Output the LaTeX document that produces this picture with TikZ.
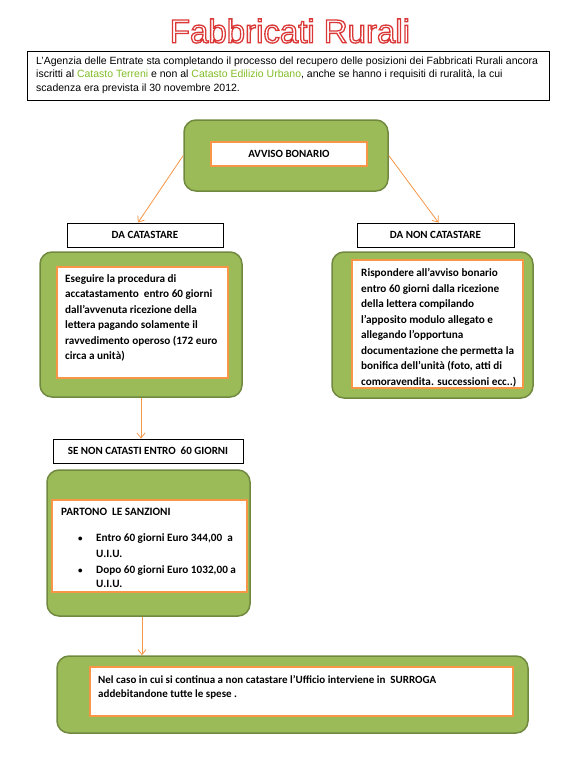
\documentclass[tikz,border=0pt]{standalone}
\usepackage{fontspec}
\setmainfont{Carlito}
\newfontfamily\arialf{Liberation Sans}
\usetikzlibrary{arrows.meta}
\definecolor{gfill}{RGB}{155,187,89}
\definecolor{gdraw}{RGB}{113,137,63}
\definecolor{orng}{RGB}{247,150,70}
\definecolor{tgreen}{RGB}{130,190,40}
\begin{document}
\begin{tikzpicture}[x=1pt,y=-1pt,
  greenbox/.style={draw=gdraw,fill=gfill,line width=1.5pt,rounded corners=12pt,inner sep=0},
  whitebox/.style={draw=orng,fill=white,line width=2pt,inner sep=0},
  labelbox/.style={draw=black,fill=white,line width=0.8pt,inner sep=0,font=\bfseries\fontsize{11}{12}\selectfont},
  txt/.style={inner sep=0,anchor=base west,align=left,font=\bfseries\fontsize{11.2}{15.5}\selectfont},
  conn/.style={draw=orng,line width=0.8pt,-{Straight Barb[length=5pt,width=8pt]}}]
\useasboundingbox[fill=white] (0,0) rectangle (582,771);

% intro (node anchored at the baseline of its last line)
\node[draw=black,line width=0.8pt,minimum width=522pt,minimum height=49pt,inner sep=0] (intro) at (288,75.5) {};
\node[inner sep=0,anchor=base west,align=left,font=\arialf\fontsize{10.5}{13.5}\selectfont] (introtxt) at (36,91)
 {L’Agenzia delle Entrate sta completando il processo del recupero delle posizioni dei Fabbricati Rurali ancora\\
  iscritti al \textcolor{tgreen}{Catasto Terreni} e non al \textcolor{tgreen}{Catasto Edilizio Urbano}, anche se hanno i requisiti di ruralità, la cui\\
  scadenza era prevista il 30 novembre 2012.};

% avviso
\node[greenbox,minimum width=204pt,minimum height=71pt] (g0) at (286,155.5) {};
\node[whitebox,minimum width=156pt,minimum height=24pt,font=\bfseries\fontsize{11}{12}\selectfont] (w0) at (289,154) {AVVISO BONARIO};

% labels
\node[labelbox,minimum width=156pt,minimum height=24pt] (dac) at (145,235) {DA CATASTARE};
\node[labelbox,minimum width=157pt,minimum height=24pt] (dnc) at (435.5,235) {DA NON CATASTARE};

% left box
\node[greenbox,minimum width=202pt,minimum height=145pt] (g1) at (141,324.5) {};
\node[whitebox,minimum width=171pt,minimum height=111pt] (w1) at (142.5,322.5) {};
\node[txt] (t1) at (65,359.5) {Eseguire la procedura di\\accatastamento\ \ entro 60 giorni\\dall’avvenuta ricezione della\\lettera pagando solamente il\\ravvedimento operoso (172 euro\\circa a unità)};

% right box
\node[greenbox,minimum width=201pt,minimum height=146pt] (g2) at (432.5,325) {};
\node[whitebox,minimum width=171pt,minimum height=128pt] (w2) at (437.5,324) {};
\begin{scope}
\clip (w2.north west) rectangle ([yshift=-2pt]w2.south east);
\node[txt] (t2) at (361,385) {Rispondere all’avviso bonario\\entro 60 giorni dalla ricezione\\della lettera compilando\\l’apposito modulo allegato e\\allegando l’opportuna\\documentazione che permetta la\\bonifica dell’unità (foto, atti di\\comoravendita. successioni ecc..)};
\end{scope}

% se non catasti
\node[labelbox,minimum width=190pt,minimum height=24pt] (sc) at (148,451) {SE NON CATASTI ENTRO\ \ 60 GIORNI};

% sanzioni
\node[greenbox,minimum width=203pt,minimum height=146pt] (g3) at (148.5,543) {};
\node[whitebox,minimum width=195pt,minimum height=92pt] (w3) at (149.5,546) {};
\node[txt,font=\bfseries\fontsize{11.2}{16}\selectfont] (t3) at (61,587) {PARTONO\ \ LE SANZIONI\\[10pt]
 \hspace*{17pt}\makebox[18pt][l]{\small\textbullet}Entro 60 giorni Euro 344,00\ \ a\\
 \hspace*{35pt}U.I.U.\\
 \hspace*{17pt}\makebox[18pt][l]{\small\textbullet}Dopo 60 giorni Euro 1032,00 a\\[-2pt]
 \hspace*{35pt}U.I.U.};

% surroga
\node[greenbox,minimum width=471pt,minimum height=77pt] (g4) at (292.5,694.5) {};
\node[whitebox,minimum width=423pt,minimum height=49pt] (w4) at (301.5,691.5) {};
\node[txt,font=\bfseries\fontsize{11}{14}\selectfont] (t4) at (98,697) {Nel caso in cui si continua a non catastare l’Ufficio interviene in\ \ SURROGA\\addebitandone tutte le spese .};

% connectors
\draw[conn] (g0.west) -- ([xshift=-7pt]dac.north);
\draw[conn] (g0.east) -- ([xshift=3pt]dnc.north);
\draw[conn] (g1.south) -- (g1.south |- sc.north);
\draw[conn] ([xshift=-6.5pt]g3.south) -- ([xshift=-6.5pt]g3.south |- g4.north);

% title
\node[inner sep=0] (title) at (290,31) {\fontsize{33}{33}\selectfont\arialf\special{pdf:literal direct q 2 Tr 1.3 w 0.86 0.22 0.22 RG 1 1 1 rg}Fabbricati Rurali\special{pdf:literal direct Q}};
\end{tikzpicture}
\end{document}
